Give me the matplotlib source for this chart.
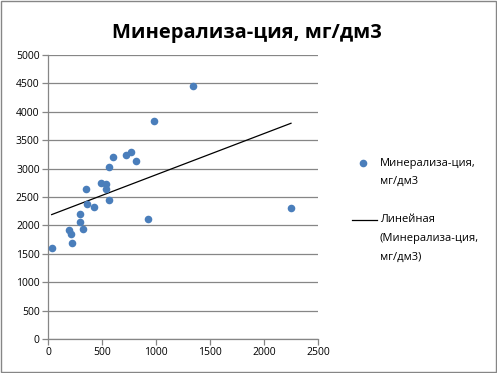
import numpy as np
import matplotlib
matplotlib.use("Agg")
import matplotlib.pyplot as plt
from matplotlib.lines import Line2D

plt.rcParams['font.family'] = ['Open Sans', 'DejaVu Sans']

title = "Минерализа-ция, мг/дм3"
series_label = ["Минерализа-ция,", "мг/дм3"]
trend_label = ["Линейная", "(Минерализа-ция,", "мг/дм3)"]

x_vals = [34, 219, 194, 213, 321, 296, 296, 361, 423, 352, 565, 491, 537, 537,
          565, 599, 719, 765, 815, 923, 981, 1340, 2250]
y_vals = [1608, 1695, 1925, 1853, 1942, 2060, 2200, 2382, 2330, 2647, 2447, 2752,
          2723, 2635, 3028, 3204, 3239, 3292, 3139, 2118, 3838, 4454, 2306]

x_ticks = [0, 500, 1000, 1500, 2000, 2500]
y_ticks = [0, 500, 1000, 1500, 2000, 2500, 3000, 3500, 4000, 4500, 5000]

fig = plt.figure(figsize=(4.97, 3.73), dpi=100)
ax = fig.add_axes([48/497, 1-339/373, 270/497, 284/373])

ax.scatter(x_vals, y_vals, s=30, color='#4a7ebb', zorder=3, linewidths=0)
coef = np.polyfit(x_vals, y_vals, 1)
xs = np.array([min(x_vals), max(x_vals)])
ax.plot(xs, np.polyval(coef, xs), color='black', lw=0.9, zorder=2)

ax.set_xlim(0, 2500)
ax.set_ylim(0, 5000)
ax.set_xticks(x_ticks)
ax.set_yticks(y_ticks)
ax.yaxis.grid(True, color='#868686', lw=0.9)
ax.set_axisbelow(True)
for s in ['top', 'right']:
    ax.spines[s].set_visible(False)
for s in ['left', 'bottom']:
    ax.spines[s].set_color('#868686')
    ax.spines[s].set_linewidth(0.9)
ax.tick_params(axis='both', colors='#868686', labelcolor='black', labelsize=7.5,
               length=4, width=0.9, direction='out', pad=2)

fig.text(247/497, 1-33/373, title, ha='center', va='center', fontsize=14.5,
         fontweight='bold')

# legend
fig.add_artist(Line2D([363/497], [1-163/373], marker='o', color='#4a7ebb',
                      markersize=5.5, markeredgewidth=0, transform=fig.transFigure))
for i, t in enumerate(series_label):
    fig.text(380/497, 1-(163 + 18.5*i)/373, t, ha='left', va='center', fontsize=8)
fig.add_artist(Line2D([352/497, 377/497], [1-220/373, 1-220/373], color='black',
                      lw=0.9, transform=fig.transFigure))
for i, t in enumerate(trend_label):
    fig.text(380/497, 1-(220 + 18.5*i)/373, t, ha='left', va='center', fontsize=8)

# outer border
fig.add_artist(plt.Rectangle((0.002, 0.002), 0.996, 0.996, fill=False,
                             edgecolor='#868686', lw=1, transform=fig.transFigure))

fig.savefig("out.png", dpi=100)
